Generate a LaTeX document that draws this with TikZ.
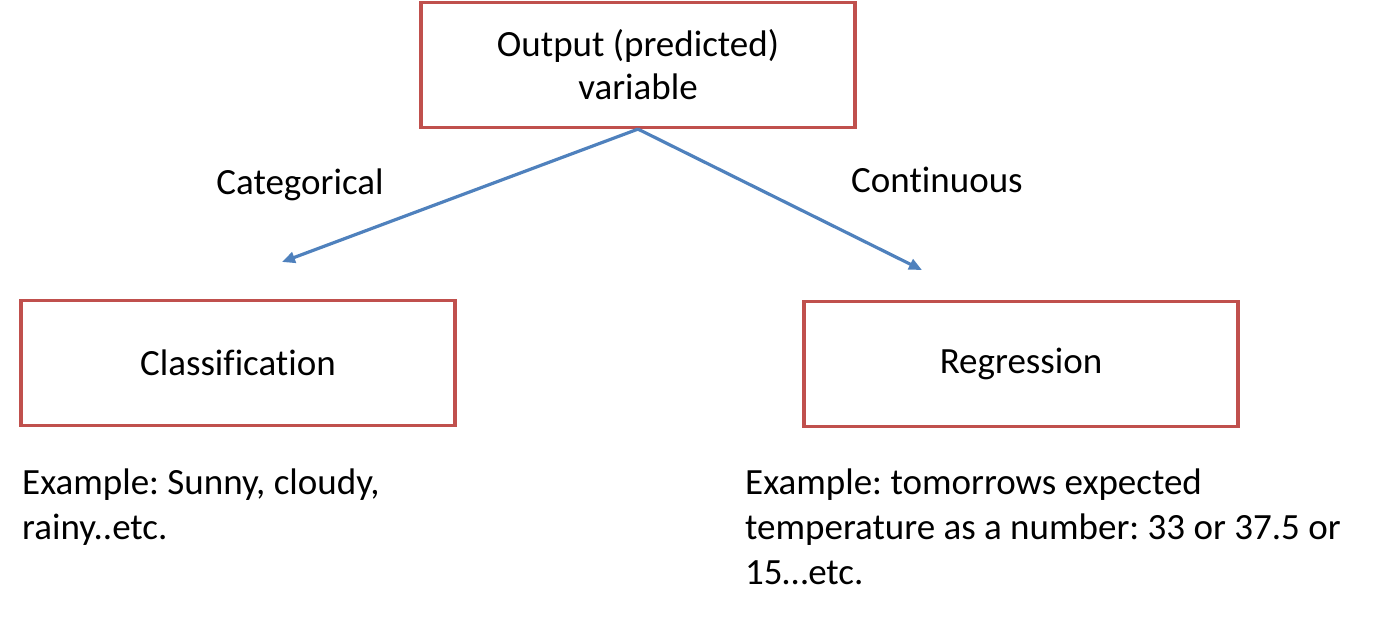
\documentclass[tikz,border=0pt]{standalone}
\usepackage{fontspec}
\setmainfont[Ligatures=NoCommon]{Carlito}
\frenchspacing
\usetikzlibrary{arrows.meta,positioning}
\definecolor{boxred}{RGB}{192,80,77}
\definecolor{arrowblue}{RGB}{79,129,189}
\tikzset{
  >={Triangle[length=13pt,width=11pt]},
  varbox/.style={draw=boxred,line width=3.2pt,minimum width=434pt,minimum height=125pt,
    align=center,font=\fontsize{37}{43}\selectfont},
  lbl/.style={font=\fontsize{37}{44}\selectfont},
  example/.style={font=\fontsize{37}{45}\selectfont,align=left,anchor=north west,inner sep=0pt}
}

\begin{document}
\begin{tikzpicture}[x=1pt,y=-1pt]
      \useasboundingbox (0,0) rectangle (1392,616);
      \node[varbox] (out) at (638,65) {Output (predicted)\\variable};
      \node[varbox] (cls) at (238,363) {Classification};
      \node[varbox] (reg) at (1021,364) {Regression};
      \coordinate (clsend) at (282,262);
      \coordinate (regend) at (922,270);
      \draw[->,arrowblue,line width=3.2pt] (out.south)--(clsend);
      \draw[->,arrowblue,line width=3.2pt] (out.south)--(regend);
      \node[lbl] (cat) at (300,185) {Categorical};
      \node[lbl] (cont) at (937,180) {Continuous};
      \node[example] (clsex) at (22,469) {Example: Sunny, cloudy,\\rainy..etc.};
      \node[example] (regex) at (745,469) {Example: tomorrows expected\\temperature as a number: 33 or 37.5 or\\15…etc.};
    \end{tikzpicture}
\end{document}
